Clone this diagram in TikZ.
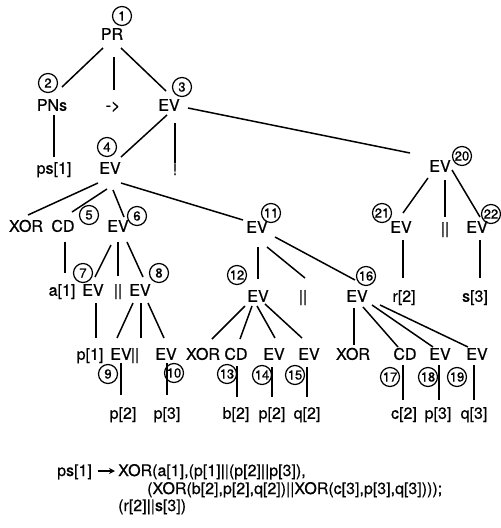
\documentclass[tikz,border=0pt]{standalone}
\usepackage{fontspec}
\setmainfont{TeX Gyre Heros}[FakeBold=0.6]
\usetikzlibrary{calc,arrows.meta}
\tikzset{
  lbl/.style={inner sep=0pt, text height=11.5pt, text depth=0pt, font=\fontsize{16}{16}\selectfont},
  num/.style={circle, draw, line width=1.2pt, minimum size=19pt, inner sep=0pt, font=\fontsize{13}{13}\selectfont},
  conn/.style={line width=1.5pt},
  formula/.style={inner sep=0pt, anchor=base west, font=\fontsize{16}{16}\selectfont}
}
\newcommand\conn[6]{\draw[conn] ($(#1)+(#2,#3)$) -- ($(#4)+(#5,#6)$);}
\begin{document}
\begin{tikzpicture}[x=1pt,y=-1pt]
\useasboundingbox (0,0) rectangle (501,528);
% ---- text nodes ----
\node[lbl] (n1) at (112,34) {PR};
\node[lbl] (n2) at (52,105) {PNs};
\node[lbl] (arr) at (113,105) {->};
\node[lbl] (n3) at (169,105) {EV};
\node[lbl] (ps1) at (54,168) {ps[1]};
\node[lbl] (n4) at (110,168) {EV};
\node[inner sep=0pt, anchor=base, font=\fontsize{16}{16}\selectfont] (excl) at (175,175) {!};
\node[lbl] (n20) at (440,166) {EV};
\node[lbl] (x4) at (26,226) {XOR};
\node[lbl] (n5) at (63,226) {CD};
\node[lbl] (n6) at (118,226) {EV};
\node[lbl] (n11) at (257,227) {EV};
\node[lbl] (n21) at (401,227) {EV};
\node[lbl] (par20) at (445,228) {||};
\node[lbl] (n22) at (477,227) {EV};
\node[lbl] (a1) at (62,290) {a[1]};
\node[lbl] (n7) at (93,290) {EV};
\node[lbl] (par6) at (118,290) {||};
\node[lbl] (n8) at (140,290) {EV};
\node[lbl] (n12) at (258,296) {EV};
\node[lbl] (par11) at (303,296) {||};
\node[lbl] (n16) at (357,296) {EV};
\node[lbl] (r2) at (404,296) {r[2]};
\node[lbl] (s3) at (475,296) {s[3]};
\node[lbl] (p1) at (90,354) {p[1]};
\node[lbl] (n9) at (121,354) {EV};
\node[lbl] (par8) at (135,354) {||};
\node[lbl] (n10) at (166,354) {EV};
\node[lbl] (x12) at (203,354) {XOR};
\node[lbl] (n13) at (236,354) {CD};
\node[lbl] (n14) at (274,354) {EV};
\node[lbl] (n15) at (309,354) {EV};
\node[lbl] (x16) at (353,354) {XOR};
\node[lbl] (n17) at (405,354) {CD};
\node[lbl] (n18) at (440,354) {EV};
\node[lbl] (n19) at (477,354) {EV};
\node[lbl] (p2a) at (123,413) {p[2]};
\node[lbl] (p3a) at (167,413) {p[3]};
\node[lbl] (b2) at (236,413) {b[2]};
\node[lbl] (p2b) at (272,413) {p[2]};
\node[lbl] (q2) at (307,413) {q[2]};
\node[lbl] (c2) at (404,413) {c[2]};
\node[lbl] (p3b) at (438,413) {p[3]};
\node[lbl] (q3) at (474,413) {q[3]};
% ---- circled numbers ----
\node[num] (k1) at (122,16) {1};
\node[num] (k2) at (48,83) {2};
\node[num] (k3) at (182,87) {3};
\node[num] (k4) at (107,147) {4};
\node[num] (k5) at (89,215) {5};
\node[num] (k6) at (137,216) {6};
\node[num] (k7) at (83,273) {7};
\node[num] (k8) at (159,273) {8};
\node[num] (k9) at (108,374) {9};
\node[num] (k10) at (174,373) {10};
\node[num] (k11) at (271,213) {11};
\node[num] (k12) at (237,275) {12};
\node[num] (k13) at (227,374) {13};
\node[num] (k14) at (262,375) {14};
\node[num] (k15) at (295,375) {15};
\node[num] (k16) at (366,276) {16};
\node[num] (k17) at (390,377) {17};
\node[num] (k18) at (428,377) {18};
\node[num] (k19) at (457,377) {19};
\node[num] (k20) at (462,156) {20};
\node[num] (k21) at (382,213) {21};
\node[num] (k22) at (491,214) {22};
% ---- connectors ----
\conn{n1}{-9}{14}{n2}{10}{-18}
\conn{n1}{2}{23}{arr}{1}{-15}
\conn{n1}{9}{14}{n3}{-3}{-14}
\conn{n2}{2}{10}{ps1}{0}{-11}
\conn{n3}{-2}{10}{n4}{11}{-11}
\draw[conn] ($(n3)+(6,18)$) -- ($(excl.base)+(0,-12)$);
\conn{n3}{19}{3}{n20}{-30}{-13}
\conn{n4}{-12}{15}{x4}{2}{-11}
\conn{n4}{-3}{21}{n5}{9}{-14}
\conn{n4}{3}{22}{n6}{6}{-9}
\conn{n4}{11}{15}{n11}{-14}{-7}
\conn{n5}{2}{16}{a1}{3}{-17}
\conn{n6}{-7}{19}{n7}{2}{-13}
\conn{n6}{0}{16}{par6}{0}{-14}
\conn{n6}{9}{16}{n8}{3}{-13}
\conn{n7}{3}{13}{p1}{6}{-16}
\conn{n8}{-7}{13}{n9}{-4}{-16}
\conn{n8}{1}{13}{par8}{6}{-16}
\conn{n8}{8}{13}{n10}{-2}{-16}
\conn{n9}{0}{9}{p2a}{-2}{-18}
\conn{n10}{1}{9}{p3a}{0}{-18}
\conn{n11}{1}{20}{n12}{0}{-17}
\conn{n11}{10}{20}{par11}{2}{-18}
\conn{n11}{18}{10}{n16}{-2}{-16}
\conn{n12}{-13}{10}{x12}{9}{-15}
\conn{n12}{-6}{10}{n13}{4}{-15}
\conn{n12}{-1}{10}{n14}{1}{-16}
\conn{n12}{7}{8}{n15}{-7}{-16}
\conn{n13}{1}{12}{b2}{1}{-16}
\conn{n14}{-2}{13}{p2b}{0}{-16}
\conn{n15}{-2}{13}{q2}{0}{-16}
\conn{n16}{-3}{12}{x16}{1}{-9}
\conn{n16}{6}{11}{n17}{-7}{-7}
\conn{n16}{15}{9}{n18}{-7}{-7}
\conn{n16}{23}{9}{n19}{-9}{-7}
\conn{n17}{-2}{11}{c2}{-1}{-13}
\conn{n18}{-1}{11}{p3b}{1}{-13}
\conn{n19}{-3}{11}{q3}{0}{-13}
\conn{n20}{-12}{12}{n21}{2}{-14}
\conn{n20}{5}{14}{par20}{0}{-11}
\conn{n20}{12}{4}{n22}{3}{-10}
\conn{n21}{2}{13}{r2}{-1}{-18}
\conn{n22}{3}{13}{s3}{5}{-18}
% ---- formula ----
\node[formula] (f1) at (57,476) {ps[1]};
\node[formula] (f2) at (118,476) {XOR(a[1],(p[1]||(p[2]||p[3]),};
\node[formula] (f3) at (147,494) {(XOR(b[2],p[2],q[2])||XOR(c[3],p[3],q[3])));};
\node[formula] (f4) at (118,511) {(r[2]||s[3])};
\draw[line width=1.3pt, -{Stealth[length=6pt,width=6pt]}] ($(f1.base east)+(6,-5)$) -- ($(f2.base west)+(-3,-5)$);
\end{tikzpicture}
\end{document}
